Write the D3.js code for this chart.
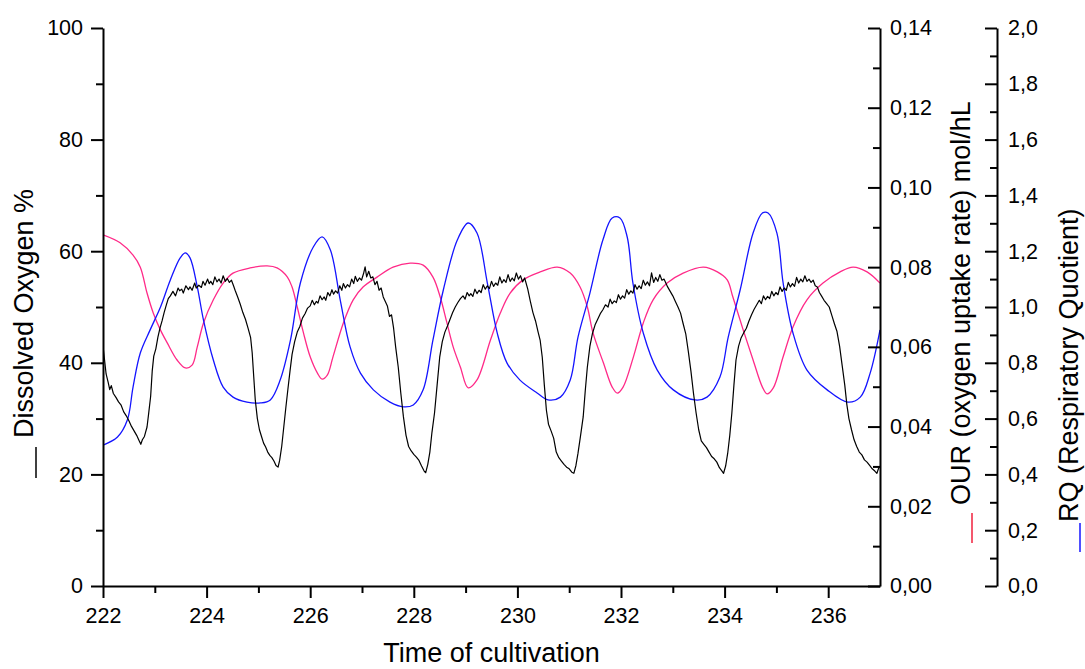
<!DOCTYPE html>
<html>
<head>
<meta charset="utf-8">
<script src="https://cdn.jsdelivr.net/npm/d3@7"></script>
<style>
  body { margin: 0; background: #fff; }
  svg text { font-family: Arial, "Liberation Sans", sans-serif; fill: #000; }
</style>
</head>
<body>
<script>
// time of cultivation vs dissolved oxygen (black), OUR (pink), RQ (blue)

// dissolved oxygen %, [time, value]
var doPoints = [
  [222.00,43.0],[222.03,40.5],[222.06,38.0],[222.10,36.5],[222.13,35.2],[222.16,35.9],[222.20,34.5],
  [222.25,33.8],[222.30,33.0],[222.35,32.4],[222.40,31.2],[222.45,30.5],[222.50,29.6],[222.55,28.6],
  [222.60,27.8],[222.65,27.0],[222.70,26.0],[222.73,25.4],[222.76,26.2],[222.80,26.8],[222.85,28.5],
  [222.88,30.8],[222.92,34.0],[222.95,38.5],[222.98,41.2],[223.02,42.5],[223.06,44.6],[223.10,46.2],
  [223.14,47.5],[223.18,49.0],[223.22,50.3],[223.26,51.5],[223.30,52.0],
  [223.35,52.8],[223.40,52.0],[223.45,53.4],[223.48,52.9],[223.52,53.2],[223.55,52.5],[223.60,53.8],
  [223.65,53.1],[223.68,53.6],[223.72,53.0],[223.77,54.3],[223.80,53.4],[223.85,53.9],[223.90,53.5],
  [223.93,54.6],[223.97,53.9],[224.02,55.0],[224.05,54.2],[224.08,54.6],[224.12,54.0],[224.16,55.4],
  [224.20,54.5],[224.24,55.0],[224.28,54.3],[224.32,55.6],[224.36,54.6],[224.40,55.1],[224.44,54.4],
  [224.48,54.8],[224.52,53.8],[224.55,53.0],[224.60,51.8],[224.65,50.5],[224.70,49.0],[224.75,47.8],
  [224.80,46.2],[224.85,44.5],[224.88,41.8],[224.91,37.5],[224.94,33.3],[224.98,30.0],[225.02,28.0],
  [225.06,26.8],[225.10,25.6],[225.14,24.9],[225.18,24.0],[225.22,23.4],[225.26,23.0],[225.30,22.4],
  [225.34,21.6],[225.38,21.3],[225.41,22.5],[225.45,25.0],[225.49,28.5],[225.53,32.0],[225.57,35.3],
  [225.61,38.5],[225.65,41.5],[225.70,43.8],[225.75,45.5],[225.80,46.5],[225.85,48.0],[225.90,48.8],
  [225.95,49.8],
  [226.00,50.2],[226.04,51.2],[226.08,50.4],[226.12,51.0],[226.15,50.7],[226.19,52.0],[226.23,51.3],
  [226.27,51.8],[226.30,51.2],[226.34,52.6],[226.38,52.0],[226.42,53.1],[226.45,52.3],[226.49,52.9],
  [226.53,52.5],[226.57,53.8],[226.61,53.0],[226.64,54.2],[226.68,53.4],[226.72,54.0],[226.76,53.6],
  [226.80,55.0],[226.84,54.2],[226.87,55.5],[226.91,54.6],[226.95,55.2],[226.99,54.8],[227.03,56.0],
  [227.06,57.2],[227.09,55.4],[227.13,56.4],[227.17,55.2],[227.21,55.4],[227.25,54.0],[227.29,54.6],
  [227.33,53.0],[227.37,53.4],[227.41,51.8],[227.45,51.0],[227.49,50.2],[227.53,48.3],[227.57,48.6],
  [227.61,46.2],[227.65,42.8],[227.70,39.2],[227.75,34.5],[227.80,30.3],[227.85,27.0],[227.90,25.0],
  [227.95,24.2],[228.00,23.6],[228.05,23.1],[228.10,22.5],[228.15,21.5],[228.20,20.6],[228.23,20.3],
  [228.27,21.8],[228.31,24.0],[228.35,27.5],[228.40,31.0],[228.45,36.0],[228.50,41.0],[228.55,43.8],
  [228.60,45.5],[228.65,46.6],[228.70,47.8],[228.75,49.0],[228.80,50.0],[228.85,50.8],[228.90,51.5],
  [228.95,52.0],[228.99,51.4],[229.03,52.6],[229.07,52.0],[229.10,52.4],[229.14,51.9],[229.18,53.2],
  [229.22,52.4],[229.26,53.0],[229.30,52.6],[229.34,54.0],[229.38,53.2],[229.42,53.8],[229.46,53.3],
  [229.50,54.6],[229.54,53.7],[229.58,54.3],[229.62,53.9],[229.66,55.4],[229.70,54.3],[229.74,54.9],
  [229.78,54.4],[229.82,55.8],[229.86,54.6],[229.90,55.2],[229.94,54.7],[229.98,56.1],[230.02,55.0],
  [230.06,55.6],[230.10,54.5],[230.14,55.2],[230.20,53.2],[230.25,51.0],[230.30,49.0],[230.35,47.5],
  [230.40,45.5],[230.44,44.0],[230.48,41.0],[230.52,36.0],[230.56,31.5],[230.60,29.0],[230.65,27.8],
  [230.70,26.5],[230.75,24.0],[230.80,23.0],[230.85,22.4],[230.90,21.8],[230.95,21.3],[231.00,21.0],
  [231.05,20.4],[231.09,20.2],[231.13,21.6],[231.17,23.8],[231.22,27.0],[231.27,30.3],[231.31,35.0],
  [231.35,39.2],[231.40,43.0],[231.45,45.3],[231.50,46.8],[231.55,47.8],[231.60,48.8],[231.65,49.5],
  [231.70,50.4],
  [231.75,50.0],[231.79,51.4],[231.83,50.6],[231.87,51.1],[231.91,50.8],[231.95,52.2],[231.99,51.4],
  [232.03,52.0],[232.07,51.6],[232.11,53.1],[232.15,52.3],[232.19,52.9],[232.23,52.5],[232.27,54.0],
  [232.31,53.2],[232.35,53.8],[232.39,53.3],[232.43,54.8],[232.47,53.9],[232.51,54.5],[232.55,53.8],
  [232.59,56.1],[232.63,54.4],[232.67,55.3],[232.71,54.6],[232.75,55.8],[232.79,54.8],[232.83,55.0],
  [232.87,54.2],[232.90,53.6],[232.95,52.8],[233.00,52.0],[233.05,51.0],[233.10,50.0],[233.15,48.9],
  [233.20,47.0],[233.25,45.2],[233.30,42.0],[233.35,38.5],[233.40,34.5],[233.45,31.0],[233.50,28.0],
  [233.55,26.0],[233.60,25.4],[233.65,24.8],[233.70,24.0],[233.75,23.2],[233.80,22.8],[233.85,22.2],
  [233.90,21.2],[233.95,20.6],[233.98,20.2],[234.02,21.5],[234.06,23.8],[234.10,27.0],[234.14,31.0],
  [234.18,36.0],[234.22,40.5],[234.27,43.0],[234.32,44.5],[234.37,45.4],[234.42,46.2],[234.47,47.5],
  [234.52,48.6],[234.57,49.6],[234.62,50.4],
  [234.67,51.2],[234.71,50.6],[234.75,52.0],[234.79,51.3],[234.83,51.9],[234.87,51.5],[234.91,52.8],
  [234.95,52.0],[234.99,52.6],[235.03,52.2],[235.07,53.6],[235.11,52.8],[235.15,53.4],[235.19,53.0],
  [235.23,54.4],[235.27,53.6],[235.31,54.2],[235.35,53.7],[235.39,55.3],[235.43,54.3],[235.47,55.0],
  [235.51,54.5],[235.55,55.6],[235.59,54.6],[235.63,55.0],[235.67,54.4],[235.71,54.8],[235.75,53.8],
  [235.79,53.6],[235.83,52.6],[235.87,52.0],[235.92,51.2],[235.97,50.6],[236.02,50.0],[236.07,48.5],
  [236.12,47.0],[236.17,45.6],[236.22,43.0],[236.27,39.5],[236.32,36.0],[236.36,32.5],[236.40,30.0],
  [236.45,28.0],[236.50,26.2],[236.55,25.0],[236.60,24.0],[236.65,23.5],[236.70,22.6],[236.75,22.2],
  [236.80,21.6],[236.85,21.0],[236.90,20.6],[236.94,20.2],[236.97,21.0],[237.00,21.5]
];

// OUR (oxygen uptake rate) mol/hL
var ourTime = [222.0,222.33,222.58,222.72,222.85,222.97,223.11,223.24,223.43,223.59,223.72,223.82,223.94,
  224.13,224.32,224.51,224.84,225.17,225.36,225.56,225.65,225.75,225.87,226.0,226.14,226.23,226.33,226.44,
  226.64,226.83,227.02,227.29,227.6,227.93,228.18,228.37,228.51,228.64,228.76,228.9,229.05,229.22,229.48,
  229.67,229.86,230.11,230.44,230.77,231.02,231.21,231.35,231.46,231.66,231.83,231.93,232.04,232.24,232.43,
  232.62,232.89,233.2,233.59,233.86,234.05,234.16,234.36,234.55,234.73,234.82,234.94,235.13,235.32,235.59,
  235.9,236.23,236.48,236.75,237.0];
var ourValue = [0.0881,0.0861,0.0830,0.0800,0.0735,0.0685,0.0642,0.0610,0.0567,0.0547,0.0554,0.0600,0.0660,
  0.0718,0.0760,0.0785,0.0798,0.0803,0.0798,0.0775,0.0750,0.0700,0.0635,0.0575,0.0534,0.0519,0.0529,0.0575,
  0.0660,0.0718,0.0750,0.0775,0.0800,0.0810,0.0805,0.0775,0.0725,0.0660,0.0600,0.0549,0.0497,0.0517,0.0617,
  0.0685,0.0735,0.0768,0.0788,0.0800,0.0785,0.0750,0.0700,0.0635,0.0560,0.0499,0.0484,0.0499,0.0575,0.0660,
  0.0718,0.0760,0.0785,0.0800,0.0788,0.0768,0.0725,0.0642,0.0567,0.0499,0.0482,0.0497,0.0575,0.0650,0.0718,
  0.0760,0.0788,0.0800,0.0788,0.0760];

// RQ (respiratory quotient)
var rqTime = [222.0,222.28,222.47,222.58,222.72,222.91,223.11,223.3,223.49,223.59,223.68,223.82,223.94,
  224.13,224.32,224.51,224.78,225.04,225.23,225.42,225.62,225.81,226.06,226.23,226.39,226.58,226.77,226.97,
  227.22,227.54,227.8,227.99,228.18,228.37,228.57,228.84,229.05,229.22,229.42,229.61,229.8,230.05,230.38,
  230.59,230.83,231.02,231.17,231.4,231.65,231.83,231.98,232.12,232.23,232.43,232.7,233.01,233.43,233.66,
  233.91,234.07,234.3,234.55,234.73,234.84,235.01,235.13,235.32,235.59,235.98,236.38,236.62,236.81,237.0];
var rqValue = [0.505,0.534,0.595,0.713,0.835,0.918,1.000,1.097,1.176,1.194,1.176,1.072,0.953,
  0.810,0.713,0.677,0.659,0.656,0.667,0.738,0.882,1.086,1.215,1.251,1.204,1.025,0.857,0.763,
  0.703,0.659,0.642,0.649,0.703,0.882,1.061,1.240,1.301,1.265,1.086,0.907,0.799,0.738,0.692,
  0.667,0.677,0.738,0.892,1.050,1.240,1.319,1.319,1.251,1.086,0.907,0.774,0.703,0.667,0.677,
  0.749,0.892,1.061,1.265,1.337,1.337,1.265,1.086,0.907,0.774,0.703,0.659,0.677,0.763,0.918];

// tick values
var timeTicks = [222, 224, 226, 228, 230, 232, 234, 236];
var timeMinor = [223, 225, 227, 229, 231, 233, 235];
var doTicks = [0, 20, 40, 60, 80, 100];
var doMinor = [10, 30, 50, 70, 90];
var ourTicks = [0, 0.02, 0.04, 0.06, 0.08, 0.10, 0.12, 0.14];
var ourMinor = [0.01, 0.03, 0.05, 0.07, 0.09, 0.11, 0.13];
var rqTicks = [0, 0.2, 0.4, 0.6, 0.8, 1.0, 1.2, 1.4, 1.6, 1.8, 2.0];
var rqMinor = [0.1, 0.3, 0.5, 0.7, 0.9, 1.1, 1.3, 1.5, 1.7, 1.9];

(function() {
  var W = 1085, H = 669;
  var plotLeft = 103, plotRight = 880, plotTop = 28, plotBottom = 586;
  var rqAxisX = 997;

  var pink = "#ff2a88", blue = "#1414ff";

  var svg = d3.select("body").append("svg")
      .attr("width", W)
      .attr("height", H);

  var x = d3.scaleLinear().domain([222, 237]).range([plotLeft, plotRight]);
  var yDO = d3.scaleLinear().domain([0, 100]).range([plotBottom, plotTop]);
  var yOUR = d3.scaleLinear().domain([0, 0.14]).range([plotBottom, plotTop]);
  var yRQ = d3.scaleLinear().domain([0, 2]).range([plotBottom, plotTop]);

  function comma(n) { return function(v) { return d3.format("." + n + "f")(v).replace(".", ","); }; }

  function zip(a, b) {
    var out = [];
    for (var i = 0; i < Math.min(a.length, b.length); i++) out.push([a[i], b[i]]);
    return out;
  }

  svg.append("clipPath").attr("id", "plot")
    .append("rect").attr("x", plotLeft).attr("y", plotTop - 5)
    .attr("width", plotRight - plotLeft).attr("height", plotBottom - plotTop + 5);

  var g = svg.append("g").attr("clip-path", "url(#plot)");

  // OUR line
  g.append("path")
      .datum(zip(ourTime, ourValue))
      .attr("fill", "none").attr("stroke", pink).attr("stroke-width", 1.3)
      .attr("d", d3.line().curve(d3.curveCatmullRom.alpha(0.5))
        .x(function(d) { return x(d[0]); }).y(function(d) { return yOUR(d[1]); }));

  // RQ line
  g.append("path")
      .datum(zip(rqTime, rqValue))
      .attr("fill", "none").attr("stroke", blue).attr("stroke-width", 1.3)
      .attr("d", d3.line().curve(d3.curveCatmullRom.alpha(0.5))
        .x(function(d) { return x(d[0]); }).y(function(d) { return yRQ(d[1]); }));

  // dissolved oxygen line
  g.append("path")
      .datum(doPoints)
      .attr("fill", "none").attr("stroke", "#000").attr("stroke-width", 1.2)
      .attr("stroke-linejoin", "round")
      .attr("d", d3.line()
        .x(function(d) { return x(d[0]); }).y(function(d) { return yDO(d[1]); }));

  function styleAxis(sel) {
    sel.selectAll("path").attr("stroke", "#000").attr("stroke-width", 2);
    sel.selectAll("line").attr("stroke", "#000").attr("stroke-width", 2);
    sel.selectAll("text").style("font-size", "21.5px").attr("fill", "#000");
  }

  // minor ticks
  svg.append("g").attr("transform", "translate(0," + plotBottom + ")")
      .call(d3.axisBottom(x).tickValues(timeMinor).tickSize(7).tickFormat(""))
      .call(styleAxis).select(".domain").remove();
  svg.append("g").attr("transform", "translate(" + plotLeft + ",0)")
      .call(d3.axisLeft(yDO).tickValues(doMinor).tickSize(7).tickFormat(""))
      .call(styleAxis).select(".domain").remove();
  svg.append("g").attr("transform", "translate(" + plotRight + ",0)")
      .call(d3.axisRight(yOUR).tickValues(ourMinor).tickSize(-7).tickFormat(""))
      .call(styleAxis).select(".domain").remove();
  svg.append("g").attr("transform", "translate(" + rqAxisX + ",0)")
      .call(d3.axisRight(yRQ).tickValues(rqMinor).tickSize(-7).tickFormat(""))
      .call(styleAxis).select(".domain").remove();

  // major ticks
  svg.append("g").attr("transform", "translate(0," + plotBottom + ")")
      .call(d3.axisBottom(x).tickValues(timeTicks).tickSize(12).tickSizeOuter(0).tickPadding(10).tickFormat(d3.format("d")))
      .call(styleAxis);
  svg.append("g").attr("transform", "translate(" + plotLeft + ",0)")
      .call(d3.axisLeft(yDO).tickValues(doTicks).tickSize(12).tickSizeOuter(0).tickPadding(8).tickFormat(d3.format("d")))
      .call(styleAxis);
  svg.append("g").attr("transform", "translate(" + plotRight + ",0)")
      .call(d3.axisRight(yOUR).tickValues(ourTicks).tickSize(-12).tickSizeOuter(0).tickPadding(10).tickFormat(comma(2)))
      .call(styleAxis);
  svg.append("g").attr("transform", "translate(" + rqAxisX + ",0)")
      .call(d3.axisRight(yRQ).tickValues(rqTicks).tickSize(-12).tickSizeOuter(0).tickPadding(11).tickFormat(comma(1)))
      .call(styleAxis);

  // axis titles
  svg.append("text")
      .attr("x", (plotLeft + plotRight) / 2).attr("y", 662)
      .attr("text-anchor", "middle")
      .style("font-size", "27px")
      .text("Time of cultivation");

  svg.append("text")
      .attr("transform", "translate(33,438) rotate(-90)")
      .style("font-size", "27px")
      .text("Dissolved Oxygen %");
  svg.append("line")
      .attr("x1", 36).attr("x2", 36).attr("y1", 447).attr("y2", 478)
      .attr("stroke", "#000").attr("stroke-width", 1.5);

  svg.append("text")
      .attr("transform", "translate(970,505) rotate(-90)")
      .style("font-size", "27px")
      .text("OUR (oxygen uptake rate) mol/hL");
  svg.append("line")
      .attr("x1", 972).attr("x2", 972).attr("y1", 513).attr("y2", 543)
      .attr("stroke", "#f0203c").attr("stroke-width", 1.5);

  svg.append("text")
      .attr("transform", "translate(1078,522) rotate(-90)")
      .style("font-size", "27px")
      .text("RQ (Respiratory Quotient)");
  svg.append("line")
      .attr("x1", 1080).attr("x2", 1080).attr("y1", 523).attr("y2", 552)
      .attr("stroke", blue).attr("stroke-width", 1.5);
})();
</script>
</body>
</html>
